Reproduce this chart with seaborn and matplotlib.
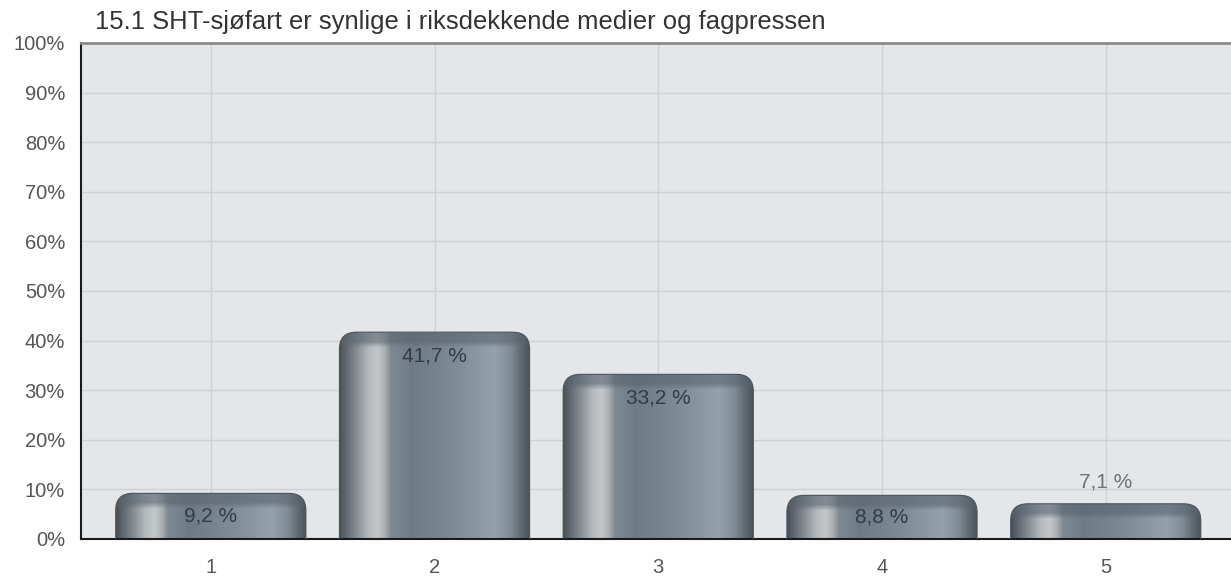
import numpy as np
import pandas as pd
import seaborn as sns
import matplotlib.pyplot as plt
from matplotlib.patches import FancyBboxPatch
from matplotlib.colors import LinearSegmentedColormap, to_rgb

title = "15.1 SHT-sjøfart er synlige i riksdekkende medier og fagpressen"
categories = ["1", "2", "3", "4", "5"]
values = [9.2, 41.7, 33.2, 8.8, 7.1]
value_labels = ["9,2 %", "41,7 %", "33,2 %", "8,8 %", "7,1 %"]
yticks = list(range(0, 101, 10))
ytick_labels = [f"{t}%" for t in yticks]

df = pd.DataFrame({"kategori": categories, "andel": values})

sns.set_style("white")
plt.rcParams["font.family"] = ["Liberation Sans", "DejaVu Sans"]

W, H = 1231, 576
fig = plt.figure(figsize=(W / 100, H / 100), dpi=100)
ax = fig.add_axes([81 / W, 37 / H, 1 - 81 / W, 496 / H])
ax.set_facecolor("#e4e7ea")

sns.barplot(data=df, x="kategori", y="andel", ax=ax, width=0.85,
            color="#7a8792", zorder=2)

xlim = (-0.58, 4.56)
ax.set_xlim(*xlim)
ax.set_ylim(0, 100)

# pixels per data unit, used for the rounded tops and the gradient resolution
px_x = (W - 81) / (xlim[1] - xlim[0])
px_y = 496 / 100

# horizontal shading of the "cylinder"
stops = [(0.00, "#4a5259"), (0.04, "#646d75"), (0.10, "#8d959b"),
         (0.15, "#b3b8bc"), (0.20, "#c4c8cb"), (0.24, "#a7aeb3"),
         (0.27, "#7e8992"), (0.38, "#6e7b87"), (0.60, "#7d8b97"),
         (0.82, "#94a2ae"), (0.90, "#808c96"), (0.96, "#5f6870"),
         (1.00, "#4a5259")]
cmap = LinearSegmentedColormap.from_list("bar", stops)
rim = np.array(to_rgb("#59636c"))

radius_px = 17
for bar in list(ax.patches):
    x0, w, v = bar.get_x(), bar.get_width(), bar.get_height()
    bar.set_visible(False)

    ncols = max(int(round(w * px_x)), 2)
    nrows = max(int(round(v * px_y)), 2)
    profile = cmap(np.linspace(0, 1, ncols))[:, :3]
    rows = np.arange(nrows)[:, None, None]
    rim_w = np.clip((15 - rows) / 6, 0, 1) * 0.85
    rim_prof = profile * 0.3 + rim * 0.7
    img = profile[None, :, :] * (1 - rim_w) + rim_prof[None, :, :] * rim_w

    clip = FancyBboxPatch((x0, -20), w, v + 20,
                          boxstyle=f"round,pad=0,rounding_size={radius_px / px_x}",
                          mutation_aspect=px_x / px_y,
                          facecolor="none", edgecolor="#4c545b", lw=0.8,
                          zorder=3)
    ax.add_patch(clip)
    im = ax.imshow(img, extent=[x0, x0 + w, 0, v], origin="upper",
                   aspect="auto", zorder=2, interpolation="bilinear")
    im.set_clip_path(clip)

ax.set_xlim(*xlim)
ax.set_ylim(0, 100)

for i, (v, lab) in enumerate(zip(values, value_labels)):
    if v < 8:
        y, col = v + 4.4, "#707070"
    elif v < 20:
        y, col = v / 2, "#333b43"
    else:
        y, col = v - 4.8, "#333b43"
    ax.text(i, y, lab, ha="center", va="center", fontsize=15, color=col, zorder=4)

ax.set_yticks(yticks)
ax.set_yticklabels(ytick_labels)
ax.set_xlabel("")
ax.set_ylabel("")

ax.grid(True, color="#cdd1d5", lw=1)
ax.set_axisbelow(True)

for side in ["left", "bottom"]:
    ax.spines[side].set_color("#1a1a1a")
    ax.spines[side].set_linewidth(1.5)
ax.spines["top"].set_color("#8a8a8a")
ax.spines["top"].set_linewidth(2)
ax.spines["right"].set_visible(False)

ax.tick_params(axis="both", direction="out", length=4.5, width=1.2,
               color="#1a1a1a", labelcolor="#555555", labelsize=14.5, pad=7)
ax.tick_params(axis="x", pad=9)

t = fig.text(95 / W, 1 - 22 / H, title, ha="left", va="center",
             fontsize=15, color="#333333")
fig.canvas.draw()
tw = t.get_window_extent().width
t.set_fontsize(15 * 732 / tw)

fig.savefig("out.png", dpi=100)
